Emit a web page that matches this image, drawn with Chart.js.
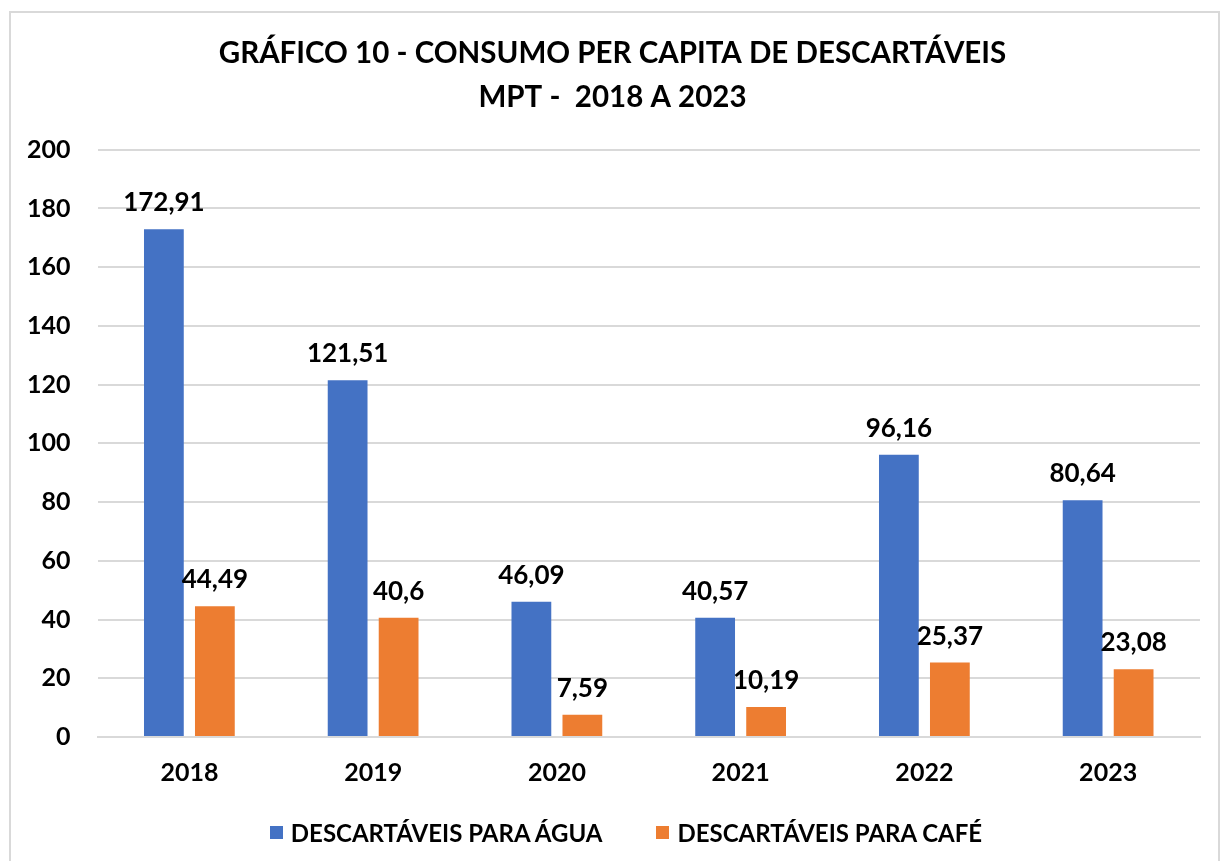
<!DOCTYPE html>
<html>
<head>
<meta charset="utf-8">
<script src="https://cdn.jsdelivr.net/npm/chart.js@4"></script>
<style>
    body { margin: 0; background: #fff; font-family: Lato, "Open Sans", sans-serif; }
    #box { position: absolute; left: 9px; top: 11px; width: 1207px; height: 870px; border: 2px solid #d9d9d9; }
    #legend { position: absolute; left: 0; top: 818px; width: 1252px; text-align: center; font-size: 24px; font-weight: bold; line-height: 24px; color: #000; white-space: nowrap; }
    .legend-item { display: inline-flex; align-items: center; margin: 0 27px; }
    .legend-box { width: 13px; height: 13px; margin-right: 8px; }
</style>
</head>
<body>
<div id="box"><canvas id="chart" width="1207" height="850"></canvas></div>
<div id="legend"></div>
<script>
// Consumo per capita de descartáveis - MPT 2018 a 2023

const years = ['2018', '2019', '2020', '2021', '2022', '2023'];
const aguaValues = [172.91, 121.51, 46.09, 40.57, 96.16, 80.64];
const cafeValues = [44.49, 40.6, 7.59, 10.19, 25.37, 23.08];
const seriesNames = ['DESCARTÁVEIS PARA ÁGUA', 'DESCARTÁVEIS PARA CAFÉ'];
const seriesColors = ['#4472C4', '#ED7D31'];
const titleLines = ['GRÁFICO 10 - CONSUMO PER CAPITA DE DESCARTÁVEIS', 'MPT -  2018 A 2023'];

const FONT = 'Lato, "Open Sans", sans-serif';

function fmt(v) {
    return String(v).replace('.', ',');
}

// draws the value above each bar
const valueLabels = {
    id: 'valueLabels',
    afterDatasetsDraw(chart) {
        const ctx = chart.ctx;
        ctx.save();
        ctx.font = 'bold 26px ' + FONT;
        ctx.fillStyle = '#000';
        ctx.textAlign = 'center';
        ctx.textBaseline = 'alphabetic';
        chart.data.datasets.forEach((ds, i) => {
            const meta = chart.getDatasetMeta(i);
            meta.data.forEach((bar, j) => {
                ctx.fillText(fmt(ds.data[j]), bar.x, bar.y - 18);
            });
        });
        ctx.restore();
    }
};

const chart = new Chart(document.getElementById('chart'), {
    type: 'bar',
    data: {
        labels: years,
        datasets: [
            { label: seriesNames[0], data: aguaValues, backgroundColor: seriesColors[0], barPercentage: 0.78, categoryPercentage: 0.555 },
            { label: seriesNames[1], data: cafeValues, backgroundColor: seriesColors[1], barPercentage: 0.78, categoryPercentage: 0.555 }
        ]
    },
    options: {
        responsive: false,
        animation: false,
        layout: { padding: { top: 19, left: 14, right: 18, bottom: 62 } },
        scales: {
            x: {
                grid: { display: false },
                border: { color: '#d9d9d9', width: 2 },
                ticks: { color: '#000', font: { family: FONT, size: 25, weight: 'bold' }, padding: 13 }
            },
            y: {
                min: 0, max: 200,
                ticks: { stepSize: 20, color: '#000', font: { family: FONT, size: 25, weight: 'bold' }, padding: 27 },
                grid: { color: '#d9d9d9', lineWidth: 2, drawTicks: false },
                border: { display: false },
                // tick padding is counted on both sides of the labels, drop the outer one
                afterFit: s => { s.width -= 25; }
            }
        },
        plugins: {
            title: {
                display: true,
                text: titleLines,
                color: '#000',
                font: { family: FONT, size: 29.5, weight: 'bold', lineHeight: 1.47 },
                padding: { top: 0, bottom: 31 }
            },
            legend: { display: false },
            tooltip: { enabled: false }
        }
    },
    plugins: [valueLabels]
});

// legend under the chart
document.getElementById('legend').innerHTML = chart.data.datasets.map(ds =>
    `<span class="legend-item"><span class="legend-box" style="background:${ds.backgroundColor}"></span>${ds.label}</span>`
).join('');
</script>
</body>
</html>
